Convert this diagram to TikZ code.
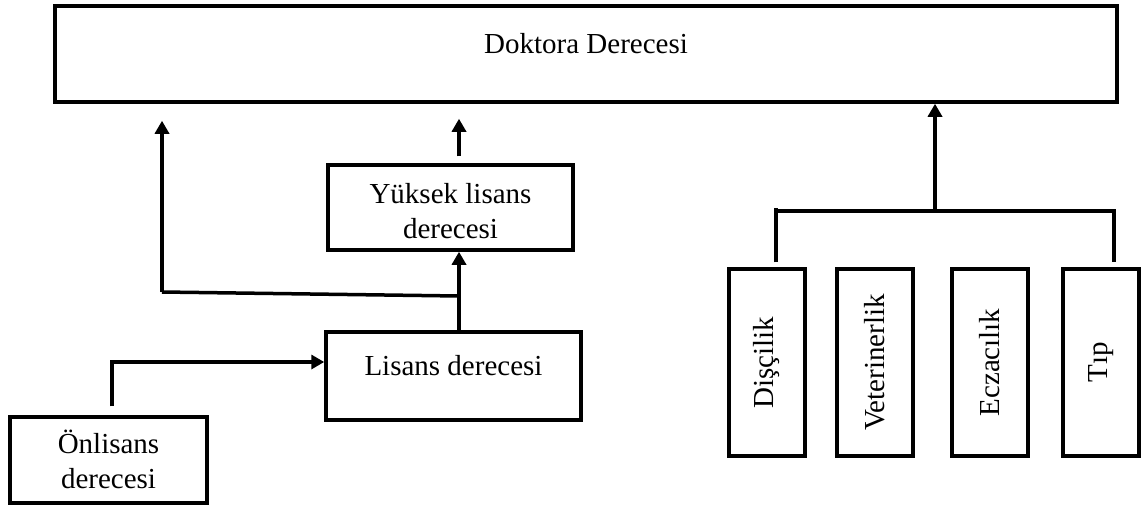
\documentclass[tikz,border=0pt]{standalone}
\usepackage{fontspec}
\setmainfont{Liberation Serif}
\usepackage{graphicx}
\usetikzlibrary{arrows.meta}
\tikzset{
  box/.style={draw=black, line width=3.5pt, inner sep=0pt, fill=white, align=center},
  vbox/.style={box, minimum width=76pt, minimum height=187pt},
  conn/.style={draw=black, line width=3.5pt},
  arr/.style={conn, -{Triangle[length=13pt,width=14pt]}}
}
\begin{document}
\begin{tikzpicture}[x=1pt, y=-1pt, font=\fontsize{29}{35}\selectfont]
\useasboundingbox (0,0) rectangle (1142,506);
% boxes
\node[box, minimum width=1062pt, minimum height=96pt, text height=47pt, text depth=49pt] (doktora) at (586,54) {Doktora Derecesi};
\node[box, minimum width=245pt, minimum height=85pt, text height=38pt, text depth=47pt] (yuksek) at (450.5,207.5) {\begin{tabular}[t]{@{}c@{}}Yüksek lisans\\derecesi\end{tabular}};
\node[box, minimum width=255pt, minimum height=88pt, text height=43pt, text depth=45pt] (lisans) at (453.5,376) {Lisans derecesi};
\node[box, minimum width=197pt, minimum height=86pt, text height=36pt, text depth=50pt] (onlisans) at (108.5,460) {\begin{tabular}[t]{@{}c@{}}Önlisans\\derecesi\end{tabular}};
\node[vbox] (disc) at (767,362.5) {\rotatebox{90}{Dişçilik}};
\node[vbox] (vet) at (875,362.5) {\rotatebox{90}{Veterinerlik}};
\node[vbox] (ecz) at (990,362.5) {\rotatebox{90}{Eczacılık}};
\node[vbox] (tip) at (1101,362.5) {\rotatebox{90}{Tıp}};
% junction points
\coordinate (lj) at (459,296);
\coordinate (ll) at (162,292);
\coordinate (oc) at (112,362);
\coordinate (bl) at (776,211);
\coordinate (br) at (1114,211);
\coordinate (bm) at (935,211);
% left connectors
\draw[arr] (lisans.north -| lj) -- (yuksek.south -| lj);
\draw[conn] (lj) -- (ll);
\draw[arr] (ll) -- ([yshift=-17pt]doktora.south -| ll);
\draw[arr] ([yshift=7pt]yuksek.north -| lj) -- ([yshift=-15pt]doktora.south -| lj);
\draw[arr] ([yshift=9pt]onlisans.north -| oc) -- (oc) -- (lisans.west |- oc);
% right connectors
\draw[conn] ([yshift=5pt]disc.north -| bl) -- ([yshift=3pt]bl) -- (bl) -- (br) -- ([yshift=5pt]tip.north -| br);
\draw[arr] (bm) -- (bm |- doktora.south);
\end{tikzpicture}
\end{document}
